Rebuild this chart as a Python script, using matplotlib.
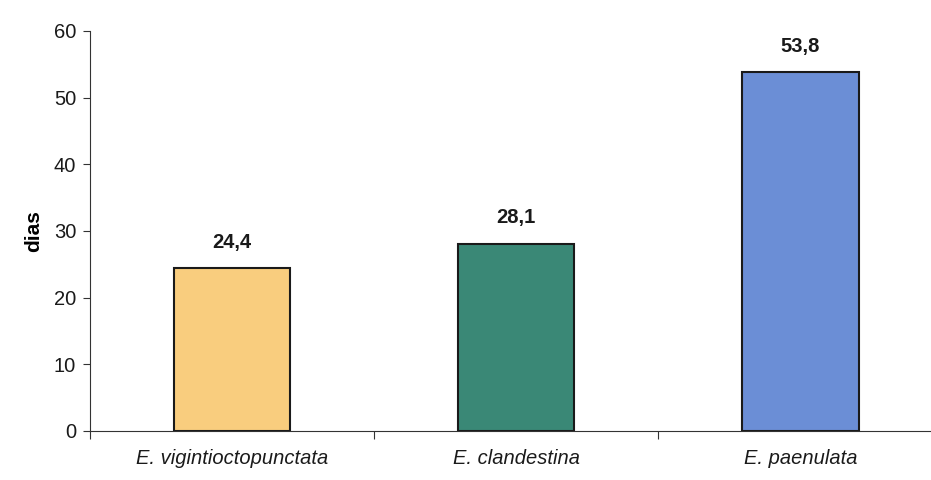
import matplotlib
matplotlib.use("Agg")
import matplotlib.pyplot as plt

# Dados
especies = ["E. vigintioctopunctata", "E. clandestina", "E. paenulata"]
dias = [24.4, 28.1, 53.8]
cores = ["#F9CD7E", "#3A8876", "#6B8ED6"]

plt.rcParams["font.family"] = ["Liberation Sans", "DejaVu Sans"]

fig = plt.figure(figsize=(9.31, 4.8), dpi=100)
ax = fig.add_axes([90 / 931, 49 / 480, 841 / 931, 400 / 480])

x = range(len(especies))
ax.bar(x, dias, width=0.41, color=cores, edgecolor="#1a1a1a", linewidth=1.5, zorder=3)

# Rótulos de valor acima das barras
for xi, v in zip(x, dias):
    ax.annotate(f"{v:.1f}".replace(".", ","), (xi, v), xytext=(0, 12),
                textcoords="offset points", ha="center", va="bottom",
                fontsize=14.5, fontweight="bold", color="#1a1a1a")

ax.set_ylim(0, 60)
ax.set_xlim(-0.5, 2.46)
ax.set_yticks(range(0, 61, 10))
ax.tick_params(axis="y", labelsize=14.5, length=5, width=0.8, colors="#333333",
               labelcolor="#1a1a1a", pad=5)

# Marcas do eixo x entre as categorias
ax.set_xticks([-0.5, 0.5, 1.5])
ax.set_xticklabels([])
ax.tick_params(axis="x", length=6, width=0.8, colors="#333333")
for xi, nome in zip(x, especies):
    ax.text(xi, -2.7, nome, ha="center", va="top", fontsize=14.5, style="italic",
            color="#1a1a1a", transform=ax.transData)

ax.set_ylabel("dias", fontsize=15, fontweight="bold", labelpad=8)
ax.spines["top"].set_visible(False)
ax.spines["right"].set_visible(False)
for lado in ("left", "bottom"):
    ax.spines[lado].set_color("#333333")
    ax.spines[lado].set_linewidth(0.8)

fig.savefig("out.png", dpi=100)
